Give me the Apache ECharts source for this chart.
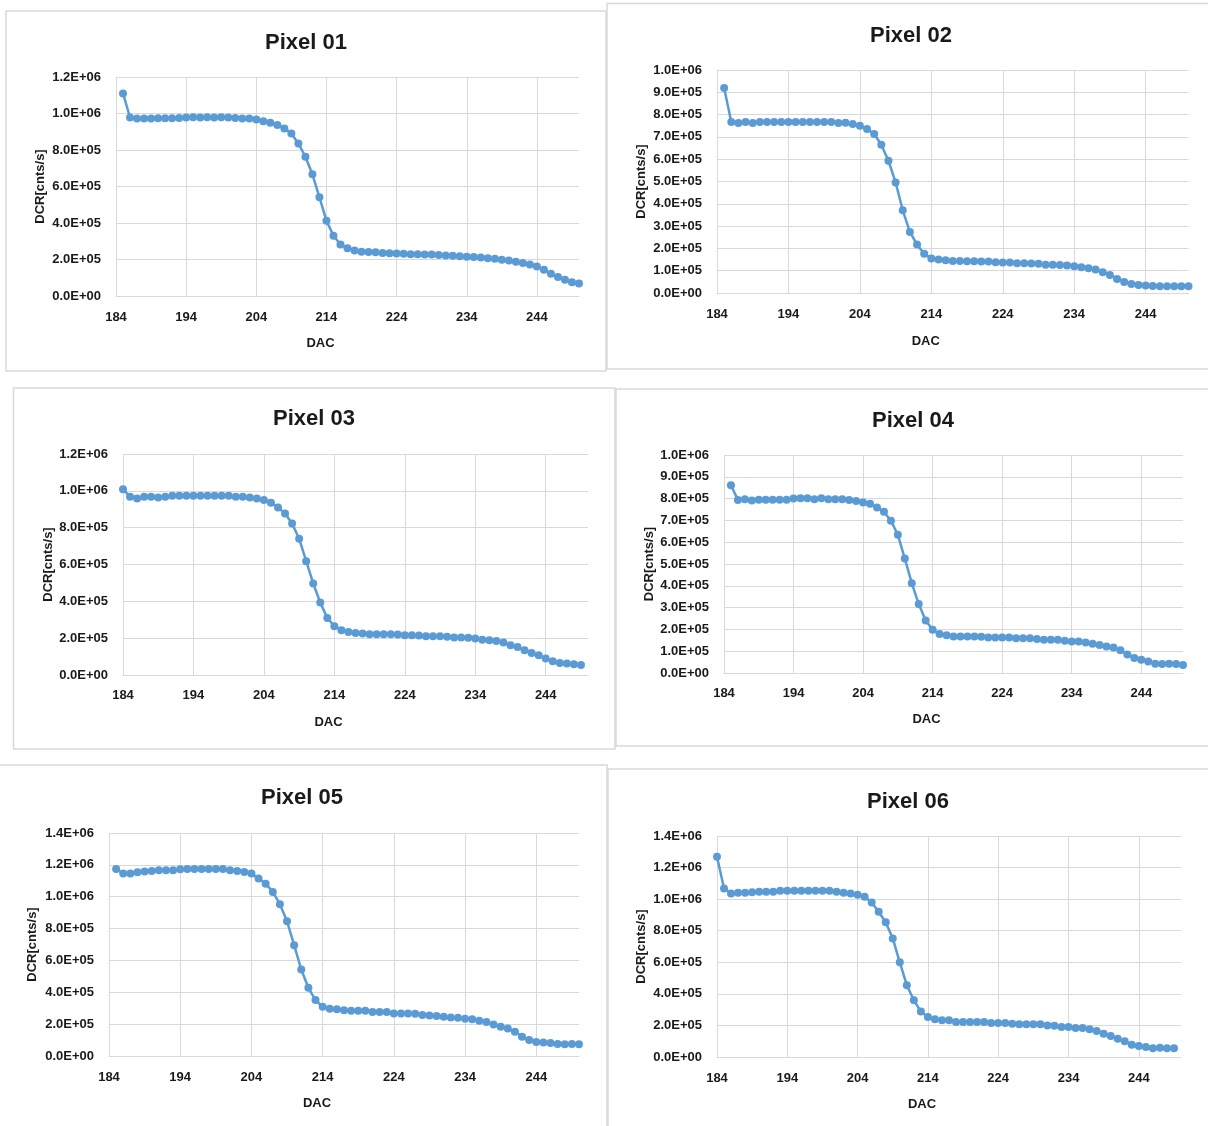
<!DOCTYPE html>
<html>
<head>
<meta charset="utf-8">
<script src="https://cdn.jsdelivr.net/npm/echarts@6/dist/echarts.min.js"></script>
<style>
html,body{margin:0;padding:0;background:#fff;}
#chart{width:1208px;height:1126px;}
</style>
</head>
<body>
<div id="chart"></div>
<script>
// ---- Data ----
var titles = ['Pixel 01','Pixel 02','Pixel 03','Pixel 04','Pixel 05','Pixel 06'];
var xTitle = 'DAC';
var yTitle = 'DCR[cnts/s]';

var dacFrom185 = [185,186,187,188,189,190,191,192,193,194,195,196,197,198,199,200,201,202,203,204,205,206,207,208,209,210,211,212,213,214,215,216,217,218,219,220,221,222,223,224,225,226,227,228,229,230,231,232,233,234,235,236,237,238,239,240,241,242,243,244,245,246,247,248,249,250];
var dacFrom184 = [184,185,186,187,188,189,190,191,192,193,194,195,196,197,198,199,200,201,202,203,204,205,206,207,208,209,210,211,212,213,214,215,216,217,218,219,220,221,222,223,224,225,226,227,228,229,230,231,232,233,234,235,236,237,238,239,240,241,242,243,244,245,246,247,248,249];

var dcr01 = [1110000,978000,973000,973000,973000,974000,974000,974000,975000,978000,
  979000,978000,979000,978000,979000,978000,976000,972000,972000,967000,
  958000,950000,937000,918000,890000,836000,763000,667000,541000,413000,
  330000,282000,262000,250000,243000,241000,240000,236000,234000,233000,
  231000,229000,229000,228000,227000,224000,222000,221000,218000,215000,
  214000,211000,207000,204000,199000,194000,188000,181000,173000,162000,
  144000,122000,104000,89000,75000,69000];
var dcr02 = [919000,767000,762000,767000,762000,767000,767000,767000,767000,767000,
  767000,767000,767000,767000,767000,767000,762000,764000,758000,750000,
  735000,713000,665000,593000,496000,371000,274000,217000,176000,155000,
  150000,147000,143000,143000,142000,142000,141000,141000,138000,137000,
  137000,133000,133000,132000,131000,127000,127000,126000,123000,120000,
  115000,111000,105000,93000,81000,63000,49000,40000,36000,34000,
  31000,30000,30000,30000,30000,30000];
var dcr03 = [1008000,968000,959000,968000,968000,964000,968000,973000,973000,973000,
  973000,973000,973000,973000,973000,973000,968000,968000,964000,959000,
  950000,935000,910000,877000,823000,740000,618000,497000,393000,310000,
  265000,243000,234000,228000,225000,221000,221000,221000,221000,220000,
  216000,216000,215000,210000,210000,210000,208000,203000,203000,202000,
  198000,192000,189000,185000,176000,161000,152000,134000,120000,107000,
  89000,74000,65000,62000,58000,54000];
var dcr04 = [861000,794000,797000,791000,795000,795000,795000,795000,795000,800000,
  802000,802000,797000,802000,797000,797000,797000,794000,789000,782000,
  776000,759000,740000,698000,634000,525000,412000,316000,241000,198000,
  179000,173000,168000,168000,168000,168000,166000,163000,163000,163000,
  163000,159000,159000,159000,156000,153000,153000,152000,148000,145000,
  145000,140000,134000,128000,122000,117000,104000,85000,69000,61000,
  53000,43000,41000,43000,41000,37000];
var dcr05 = [1174000,1145000,1145000,1153000,1158000,1162000,1166000,1166000,1166000,1172000,
  1174000,1174000,1174000,1174000,1174000,1174000,1166000,1162000,1155000,1145000,
  1114000,1082000,1030000,953000,846000,696000,543000,428000,351000,309000,
  297000,293000,288000,284000,284000,284000,276000,276000,276000,267000,
  267000,267000,265000,257000,255000,251000,247000,242000,240000,234000,
  230000,221000,213000,198000,184000,173000,153000,121000,100000,88000,
  84000,81000,75000,73000,75000,73000];
var dcr06 = [1269000,1068000,1036000,1040000,1040000,1043000,1047000,1047000,1047000,1053000,
  1053000,1053000,1053000,1053000,1053000,1053000,1053000,1047000,1040000,1036000,
  1028000,1015000,979000,920000,854000,751000,600000,455000,360000,288000,
  254000,239000,233000,233000,222000,222000,222000,222000,222000,216000,
  216000,216000,211000,207000,207000,207000,207000,199000,198000,190000,
  190000,184000,184000,176000,165000,148000,133000,116000,99000,78000,
  70000,63000,55000,59000,55000,55000];

var xMin = 184, xMax = 250, xStep = 10;
var yMaxes = [1200000,1000000,1200000,1000000,1400000,1400000];
var ySteps = [200000,100000,200000,100000,200000,200000];
var seriesX = [dacFrom185,dacFrom185,dacFrom184,dacFrom185,dacFrom185,dacFrom184];
var seriesY = [dcr01,dcr02,dcr03,dcr04,dcr05,dcr06];

// ---- Layout (pixels) ----
var L = [
  {grid:{left:116,top:77,width:463,height:219}, title:[306,45], ylm:15, xlm:15, xng:41, yng:69, box:[6,11,600,360]},
  {grid:{left:717,top:70,width:471.5,height:223}, title:[911,38], ylm:15, xlm:15, xng:42, yng:69, box:[607,3.5,620,365.5]},
  {grid:{left:123,top:454,width:465,height:221}, title:[314,421], ylm:15, xlm:14, xng:41, yng:68, box:[13.5,388,601.5,361]},
  {grid:{left:724,top:455,width:459,height:218}, title:[913,423], ylm:15, xlm:14, xng:40, yng:68, box:[616,389,610,357]},
  {grid:{left:109,top:833,width:470,height:223}, title:[302,800], ylm:15, xlm:15, xng:41, yng:70, box:[-5,765,612,380]},
  {grid:{left:717,top:836,width:464,height:221}, title:[908,804], ylm:15, xlm:15, xng:41, yng:69, box:[608,769,620,380]}
];

var FONT = '"Liberation Sans", Arial, sans-serif';
var TXT = '#1a1a1a';
var GRIDC = '#d9d9d9';

function sci(v){
  var s = Number(v).toExponential(1).toUpperCase();
  var parts = s.split('E');
  var e = parseInt(parts[1],10);
  var sign = e < 0 ? '-' : '+';
  var a = Math.abs(e);
  return parts[0] + 'E' + sign + (a < 10 ? '0' + a : '' + a);
}

var option = {
  backgroundColor:'#ffffff',
  animation:false,
  title:[], grid:[], xAxis:[], yAxis:[], series:[], graphic:[]
};

for (var i = 0; i < 6; i++) {
  var l = L[i];
  option.graphic.push({
    type:'rect', silent:true, z:-10,
    shape:{x:l.box[0], y:l.box[1], width:l.box[2], height:l.box[3]},
    style:{fill:'none', stroke:GRIDC, lineWidth:1.5}
  });
  option.title.push({
    text:titles[i], left:l.title[0], top:l.title[1]-13, textAlign:'center', padding:0,
    textStyle:{fontFamily:FONT, fontWeight:'bold', fontSize:22, color:TXT}
  });
  option.grid.push({
    left:l.grid.left, top:l.grid.top, width:l.grid.width, height:l.grid.height,
    containLabel:false, outerBoundsMode:'none'
  });
  option.xAxis.push({
    type:'value', gridIndex:i, min:xMin, max:xMax, interval:xStep,
    name:xTitle, nameLocation:'middle', nameGap:l.xng,
    nameTextStyle:{fontFamily:FONT, fontWeight:'bold', fontSize:13, color:TXT, padding:[0,54,0,0]},
    axisLine:{show:true, lineStyle:{color:GRIDC, width:1}},
    axisTick:{show:false},
    axisLabel:{fontFamily:FONT, fontWeight:'bold', fontSize:13, color:TXT, margin:l.xlm, showMaxLabel:false},
    splitLine:{show:true, showMaxLine:false, lineStyle:{color:GRIDC, width:1}}
  });
  option.yAxis.push({
    type:'value', gridIndex:i, min:0, max:yMaxes[i], interval:ySteps[i],
    name:yTitle, nameLocation:'middle', nameGap:l.yng,
    nameTextStyle:{fontFamily:FONT, fontWeight:'bold', fontSize:13, color:TXT},
    axisLine:{show:false}, axisTick:{show:false},
    axisLabel:{fontFamily:FONT, fontWeight:'bold', fontSize:13, color:TXT, margin:l.ylm, formatter:sci},
    splitLine:{show:true, lineStyle:{color:GRIDC, width:1}}
  });
  var pts = [];
  for (var k = 0; k < seriesX[i].length; k++) pts.push([seriesX[i][k], seriesY[i][k]]);
  option.series.push({
    type:'line', name:titles[i], xAxisIndex:i, yAxisIndex:i, data:pts,
    symbol:'circle', symbolSize:8, showSymbol:true,
    lineStyle:{color:'#5b9bd5', width:2.5},
    itemStyle:{color:'#5b9bd5'},
    clip:false
  });
}

var chart = echarts.init(document.getElementById('chart'), null, {renderer:'canvas'});
chart.setOption(option);
</script>
</body>
</html>
